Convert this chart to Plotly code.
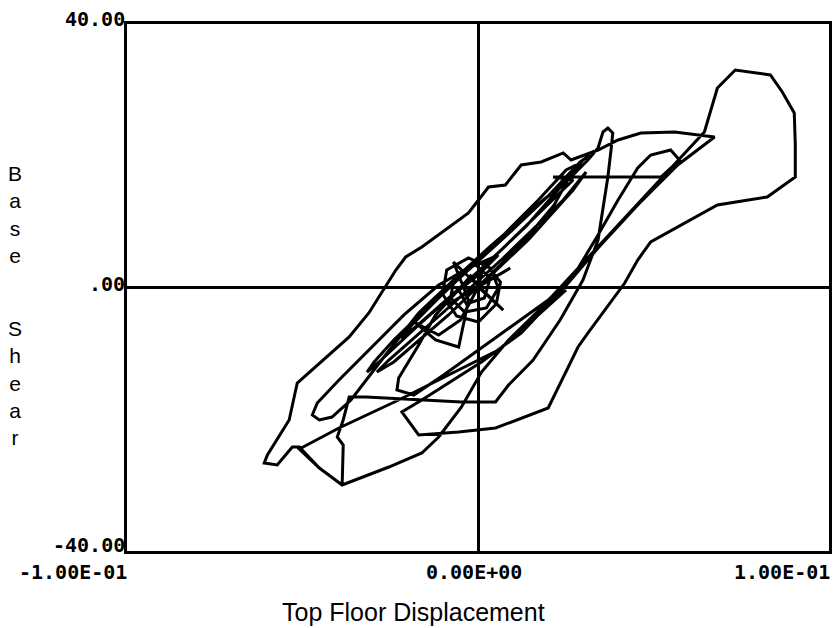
import plotly.graph_objects as go

# Hysteresis response: top floor displacement vs. base shear
top_floor_disp = [
    0.0001, -0.0021, -0.0055, -0.0033, 0.0018, 0.0035, -0.0010, -0.0067, -0.0078, -0.0038,
    0.0024, 0.0058, 0.0035, -0.0027, -0.0089, -0.0101, -0.0061, 0.0001, 0.0052, 0.0064,
    0.0018, 0.0001, -0.0050, -0.0112, -0.0177, -0.0121, -0.0055, -0.0047, -0.0027,
    -0.0070, 0.0072, 0.0001, 0.0092, -0.0089, 0.0001,
    0.0143, 0.0271, 0.0308, 0.0243, 0.0072, -0.0098, -0.0254, -0.0288, -0.0240, -0.0084,
    0.0072, 0.0143, 0.0217, 0.0262, 0.0279, 0.0251, 0.0172, 0.0081, -0.0016, -0.0112,
    -0.0191, -0.0220, -0.0174, -0.0078, 0.0030, 0.0138, 0.0228, 0.0299, 0.0319, 0.0291,
    0.0200, 0.0092, -0.0027, -0.0140, -0.0240, -0.0296, -0.0316, -0.0282, -0.0169, -0.0050,
    0.0072, 0.0194, 0.0271,
    0.0214, 0.0342, 0.0521, 0.0574, 0.0549, 0.0492, 0.0455, 0.0399, 0.0342, 0.0277,
    0.0200, 0.0101, 0.0001, -0.0098, -0.0183, -0.0231, -0.0226, -0.0169, -0.0121, -0.0061,
    0.0001, 0.0058,
    -0.0027, -0.0112, -0.0211, -0.0311, -0.0396, -0.0458, -0.0472, -0.0452, -0.0416, -0.0362,
    -0.0268, -0.0169, -0.0070, 0.0030, 0.0115, 0.0186, 0.0251, 0.0313, 0.0342,
    0.0356, 0.0370, 0.0384, 0.0379, 0.0370, 0.0342, 0.0299, 0.0234, 0.0157, 0.0087,
    0.0050, -0.0047, -0.0226, -0.0319, -0.0367, -0.0384, -0.0401, -0.0384, -0.0387, -0.0452,
    -0.0509, -0.0529, -0.0572, -0.0609, -0.0600, -0.0538, -0.0515, -0.0367, -0.0311, -0.0234,
    -0.0206, -0.0160, -0.0027, 0.0030, 0.0078, 0.0123, 0.0180, 0.0243, 0.0265, 0.0342,
    0.0399, 0.0464, 0.0560, 0.0674, 0.0569, 0.0455, 0.0342, 0.0257, 0.0123, 0.0010,
    -0.0160, -0.0217, -0.0169, -0.0055, 0.0050, 0.0200, 0.0285, 0.0313, 0.0418, 0.0455,
    0.0492, 0.0682, 0.0824, 0.0904, 0.0904, 0.0901, 0.0867, 0.0833, 0.0733, 0.0682,
    0.0645, 0.0399, 0.0180, 0.0087, 0.0010, -0.0047, -0.0112, -0.0160, -0.0254, -0.0387,
    -0.0452, -0.0509, -0.0396, -0.0226, -0.0084, 0.0058, 0.0172, 0.0251,
]

base_shear = [
    0.08, 1.75, -0.38, -2.50, -1.59, 1.44, 3.57, 1.75, -1.59, -3.72,
    -3.11, -0.08, 2.96, 4.48, 2.66, -0.99, -4.33, -5.24, -2.50, 0.83,
    3.87, 0.08, -4.93, -7.21, -5.39, -7.97, -9.03, -6.91, -1.90,
    3.87, -3.42, 0.08, 2.96, -2.66, 0.08,
    7.21, 14.80, 17.53, 13.28, 4.48, -3.72, -11.01, -12.83, -11.31, -4.17,
    3.87, 7.82, 12.52, 16.93, 18.60, 17.84, 13.28, 8.43, 3.26, -1.59,
    -5.84, -7.67, -5.84, -1.29, 3.87, 9.34, 14.80, 19.35, 20.11, 19.05,
    13.89, 8.43, 2.66, -2.81, -7.97, -11.31, -12.83, -11.31, -5.69, -0.08,
    6.00, 12.37, 16.32,
    16.77, 16.77, 16.77, 19.35, 20.87, 20.11, 18.14, 13.28, 7.97, 2.20,
    -1.90, -5.69, -9.49, -13.28, -16.32, -15.56, -13.74, -8.73, -4.17, -0.68,
    1.90, 4.93,
    2.96, 0.38, -4.17, -9.49, -14.04, -17.53, -19.35, -20.11, -19.66, -17.08,
    -10.55, -3.87, 1.14, 6.00, 9.94, 13.28, 16.02, 19.35, 21.18,
    23.61, 24.21, 23.45, 20.87, 16.77, 7.21, 1.14, -4.93, -11.01, -14.80,
    -17.38, -17.38, -16.93, -16.62, -16.62, -20.11, -22.69, -23.91, -29.98, -27.40,
    -24.21, -24.21, -26.94, -26.64, -25.43, -20.11, -14.50, -7.51, -3.87, 2.66,
    4.63, 6.15, 11.31, 15.26, 15.56, 18.60, 19.05, 20.42, 19.35, 20.87,
    22.39, 23.45, 23.61, 22.85, 18.60, 12.52, 6.00, 0.68, -6.91, -11.31,
    -17.08, -18.90, -22.39, -21.94, -21.33, -18.29, -9.03, -6.91, 0.68, 4.17,
    6.91, 12.52, 13.74, 16.77, 21.63, 26.49, 29.68, 32.26, 33.02, 30.28,
    23.61, 9.49, -3.11, -7.97, -12.83, -18.14, -22.69, -25.12, -27.25, -29.98,
    -27.40, -24.52, -21.33, -17.08, -13.28, -9.49, -4.17, -0.38,
]

x_tick_vals = [-0.1, 0.0, 0.1]
x_tick_text = ["-1.00E-01", "0.00E+00", "1.00E-01"]
y_tick_vals = [40, 0, -40]
y_tick_text = ["40.00", ".00", "-40.00"]

fig = go.Figure(
    go.Scatter(
        x=top_floor_disp,
        y=base_shear,
        mode="lines",
        line=dict(color="black", width=3),
        hoverinfo="skip",
        showlegend=False,
    )
)

axis_common = dict(
    showgrid=False,
    zeroline=True,
    zerolinecolor="black",
    zerolinewidth=2.5,
    showline=True,
    mirror=True,
    linecolor="black",
    linewidth=3,
    ticks="",
    showticklabels=False,
    fixedrange=True,
)

fig.update_layout(
    width=837,
    height=628,
    margin=dict(l=127, r=5, t=24, b=77),
    paper_bgcolor="white",
    plot_bgcolor="white",
    xaxis=dict(range=[-0.1, 0.1], **axis_common),
    yaxis=dict(range=[-40, 40], **axis_common),
)

tick_font = dict(family="DejaVu Sans Mono", size=20, color="black", weight="bold")

# x-axis end/centre labels below the frame
x_anchor = {-0.1: ("right", 2), 0.0: ("center", -4), 0.1: ("right", 3)}
for v, t in zip(x_tick_vals, x_tick_text):
    anchor, dx = x_anchor[v]
    fig.add_annotation(
        x=v, xref="x", y=0, yref="paper",
        text=t, showarrow=False, font=tick_font,
        xanchor=anchor, yanchor="middle", xshift=dx, yshift=-21,
    )

# y-axis labels sitting just above their reference lines
y_shift = {40: 5, 0: 4, -40: 6}
for v, t in zip(y_tick_vals, y_tick_text):
    fig.add_annotation(
        x=0, xref="paper", y=v, yref="y",
        text=t, showarrow=False, font=tick_font,
        xanchor="right", yanchor="middle", xshift=0, yshift=y_shift[v],
    )

title_font = dict(family="Liberation Sans, Arial, sans-serif", size=25, color="black")

fig.add_annotation(
    x=0.4085, xref="paper", y=0, yref="paper",
    text="Top Floor Displacement", showarrow=False, font=title_font,
    xanchor="center", yanchor="middle", yshift=-61,
)

# Vertical stacked y-axis title
stack_font = dict(family="Liberation Sans, Arial, sans-serif", size=21, color="black")
fig.add_annotation(
    x=0, xref="paper", y=0.5, yref="paper",
    text="B<br>a<br>s<br>e", showarrow=False, font=stack_font,
    xanchor="center", yanchor="middle", xshift=-112, yshift=73,
)
fig.add_annotation(
    x=0, xref="paper", y=0.5, yref="paper",
    text="S<br>h<br>e<br>a<br>r", showarrow=False, font=stack_font,
    xanchor="center", yanchor="middle", xshift=-112, yshift=-95,
)

fig.write_html("out.html")
